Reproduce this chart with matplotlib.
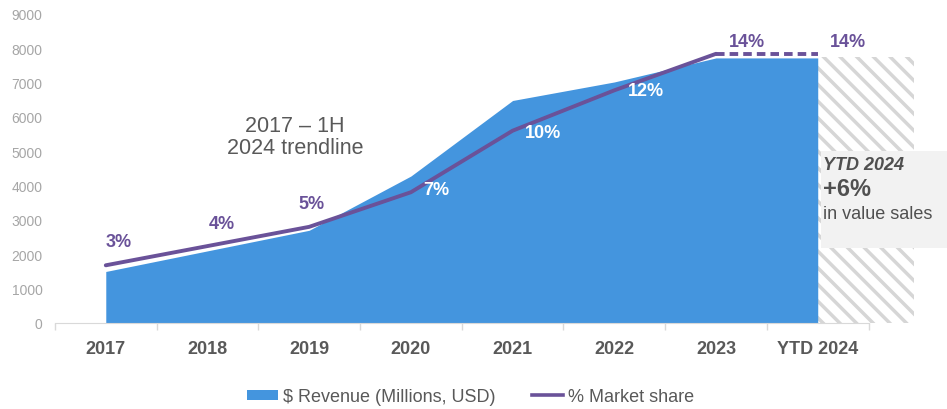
import matplotlib.pyplot as plt
from matplotlib.patches import Patch
from matplotlib.lines import Line2D

plt.rcParams['font.family'] = ['Liberation Sans', 'DejaVu Sans']
plt.rcParams['hatch.linewidth'] = 2.5

# data
categories = ['2017', '2018', '2019', '2020', '2021', '2022', '2023', 'YTD 2024']
revenue = [1500, 2100, 2700, 4280, 6480, 7020, 7720, 7720]
share = [3.0, 4.0, 5.0, 6.8, 10.0, 12.1, 14.0, 14.0]
share_labels = ['3%', '4%', '5%', '7%', '10%', '12%', '14%', '14%']
ytd_projection = 7750

blue = '#4495DE'
purple = '#6A5299'
dark = '#595959'

fig = plt.figure(figsize=(9.47, 4.10), dpi=100)
ax = fig.add_axes([0.058, 0.2098, 0.9129, 0.7537])
x = list(range(len(categories)))

# revenue area
ax.fill_between(x, revenue, 0, color=blue, linewidth=0, zorder=2)
# hatched projection for the rest of 2024
ax.fill_between([x[-1], x[-1] + 0.95], ytd_projection, 0, facecolor='white',
                edgecolor='#d6d6d6', hatch='\\\\', linewidth=0, zorder=1)

ax.set_xlim(-0.5, 8.0)
ax.set_ylim(0, 9000)
ax.set_yticks(range(0, 9001, 1000))
ax.tick_params(axis='y', length=0, pad=9, labelsize=10, labelcolor='#a6a6a6')
ax.set_xticks(x)
ax.set_xticklabels(categories, fontsize=13, fontweight='bold', color=dark)
ax.set_xticks([i - 0.5 for i in range(len(categories) + 1)], minor=True)
ax.tick_params(axis='x', which='major', length=0, pad=12)
ax.tick_params(axis='x', which='minor', length=5, color='#d9d9d9', width=1)
for s in ['top', 'right', 'left']:
    ax.spines[s].set_visible(False)
ax.spines['bottom'].set_color('#d9d9d9')
ax.spines['bottom'].set_bounds(-0.5, 7.5)

# market share line on a hidden secondary scale
ax2 = ax.twinx()
ax2.set_ylim(0, 9000 / 560)
ax2.axis('off')
ax2.plot(x[:-1], share[:-1], color=purple, linewidth=2.8, solid_capstyle='round', zorder=3)
ax2.plot(x[-2:], share[-2:], color=purple, linewidth=2.8, linestyle=(0, (2.2, 1.3)), zorder=3)

offsets = [(9, 17), (10, 16), (2, 17), (18, 2), (22, -1), (23, 0), (22, 9), (22, 9)]
for i, (lab, off) in enumerate(zip(share_labels, offsets)):
    col = 'white' if 3 <= i <= 5 else purple
    ax2.annotate(lab, (x[i], share[i]), xytext=off, textcoords='offset points',
                 ha='center', va='center', fontsize=13, fontweight='bold', color=col)

# trendline note
ax.text(1.86, 5430, '2017 – 1H\n2024 trendline', ha='center', va='center',
        fontsize=15.5, color=dark, linespacing=1.1)

# YTD box
fig.patches.append(plt.Rectangle((821 / 947, 1 - 249 / 410), 126 / 947, 97 / 410,
                                 transform=fig.transFigure, facecolor='#f2f2f2',
                                 edgecolor='none', zorder=5))
fig.text(823 / 947, 1 - 165 / 410, 'YTD 2024', fontsize=13, fontweight='bold',
         fontstyle='italic', color='#505050', va='center', ha='left', zorder=6)
fig.text(823 / 947, 1 - 190 / 410, '+6%', fontsize=17, fontweight='bold',
         color='#505050', va='center', ha='left', zorder=6)
fig.text(823 / 947, 1 - 215 / 410, 'in value sales', fontsize=13,
         color='#505050', va='center', ha='left', zorder=6)

handles = [Patch(facecolor=blue, edgecolor='none', label='$ Revenue (Millions, USD)'),
           Line2D([], [], color=purple, linewidth=2.6, label='% Market share')]
fig.legend(handles=handles, loc='center', bbox_to_anchor=(0.497, 0.03), ncol=2,
           frameon=False, fontsize=13, handlelength=1.7, handleheight=0.5,
           handletextpad=0.3, columnspacing=2.0, labelcolor=dark)

fig.savefig('out.png', dpi=100)
